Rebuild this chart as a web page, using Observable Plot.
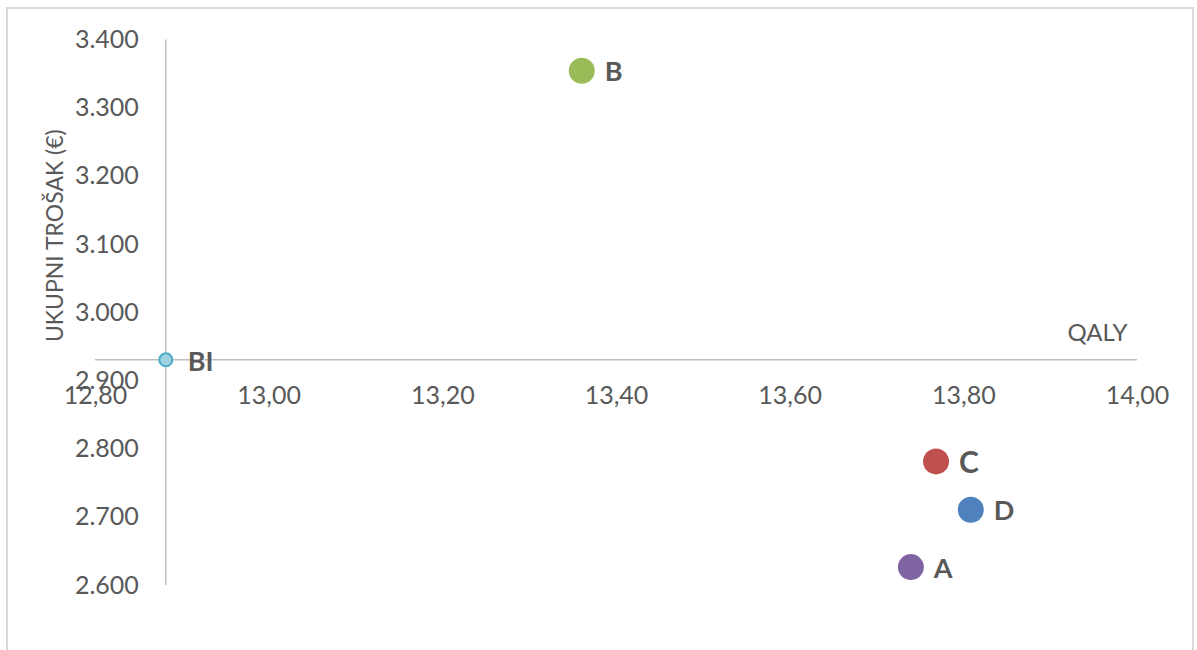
<!DOCTYPE html>
<html>
<head>
<meta charset="utf-8">
<script src="https://cdn.jsdelivr.net/npm/d3@7"></script>
<script src="https://cdn.jsdelivr.net/npm/@observablehq/plot@0.6"></script>
<style>
  html, body { margin: 0; padding: 0; background: #ffffff; }
  #wrap { position: relative; width: 1197px; height: 650px; overflow: hidden; }
  #border { position: absolute; left: 6px; top: 7px; width: 1188px; height: 660px;
            border: 2px solid #d9d9d9; box-sizing: border-box; pointer-events: none; }
  svg { font-family: Lato, "Open Sans", sans-serif; }
</style>
</head>
<body>
<div id="wrap"><div id="border"></div><div id="chart"></div></div>
<script>
// Data
const labels = ["BI", "B", "C", "D", "A"];
const qaly = [12.881, 13.36, 13.768, 13.808, 13.739];
const cost = [2931, 3355, 2782, 2711, 2627];
const colors = ["#9fd1e1", "#9bbb59", "#c0504d", "#4f81bd", "#8064a2"];
const labelSizes = [27, 27, 30, 27, 27];

const xTicks = [12.8, 13.0, 13.2, 13.4, 13.6, 13.8, 14.0];
const xTickLabels = ["12,80", "13,00", "13,20", "13,40", "13,60", "13,80", "14,00"];
const yTicks = [2600, 2700, 2800, 2900, 3000, 3100, 3200, 3300, 3400];
const yTickLabels = ["2.600", "2.700", "2.800", "2.900", "3.000", "3.100", "3.200", "3.300", "3.400"];

const xCross = 12.881; // vertical axis crosses at BI QALY
const yCross = 2931;   // horizontal axis crosses at BI cost

const pts = labels.map((l, i) => ({label: l, x: qaly[i], y: cost[i], color: colors[i], size: labelSizes[i]}));
const others = pts.filter(d => d.label !== "BI");
const bi = pts.filter(d => d.label === "BI");
const xt = xTicks.map((v, i) => ({v, t: xTickLabels[i]}));
const yt = yTicks.map((v, i) => ({v, t: yTickLabels[i]}));

const chart = Plot.plot({
  width: 1197,
  height: 650,
  margin: 0,
  style: {background: "transparent", color: "#595959"},
  x: {domain: [12.8, 14.0], range: [95, 1137], axis: null},
  y: {domain: [2600, 3400], range: [585, 39.5], axis: null},
  marks: [
    // axis lines
    Plot.ruleY([yCross], {x1: 12.8, x2: 14.0, stroke: "#bfbfbf", strokeWidth: 1.5}),
    Plot.ruleX([xCross], {y1: 2600, y2: 3400, stroke: "#bfbfbf", strokeWidth: 1.5}),
    // tick labels
    Plot.text(yt, {x: () => xCross, y: "v", text: "t", textAnchor: "end", dx: -27, fontSize: 25, fill: "#595959"}),
    Plot.text(xt, {x: "v", y: () => yCross, text: "t", dy: 36, fontSize: 25, fill: "#595959"}),
    // axis titles
    Plot.text(["QALY"], {x: () => 13.954, y: () => yCross, dy: -26, text: d => d, fontSize: 24, fill: "#595959"}),
    Plot.text(["UKUPNI TROŠAK (€)"], {x: () => 12.8, y: () => 3113, dx: -40, text: d => d, rotate: -90, fontSize: 23, fill: "#595959"}),
    // points
    Plot.dot(others, {x: "x", y: "y", r: 13, fill: "color", stroke: "none"}),
    Plot.dot(bi, {x: "x", y: "y", r: 6.5, fill: "color", stroke: "#4bacc6", strokeWidth: 2}),
    // point labels
    Plot.text(others, {x: "x", y: "y", text: "label", textAnchor: "start", dx: 23, dy: 2, fontWeight: "bold", fontSize: d => d.size, fill: "#595959"}),
    Plot.text(bi, {x: "x", y: "y", text: "label", textAnchor: "start", dx: 22, dy: 3, fontWeight: "bold", fontSize: 27, fill: "#595959"})
  ]
});
document.getElementById("chart").appendChild(chart);
</script>
</body>
</html>
